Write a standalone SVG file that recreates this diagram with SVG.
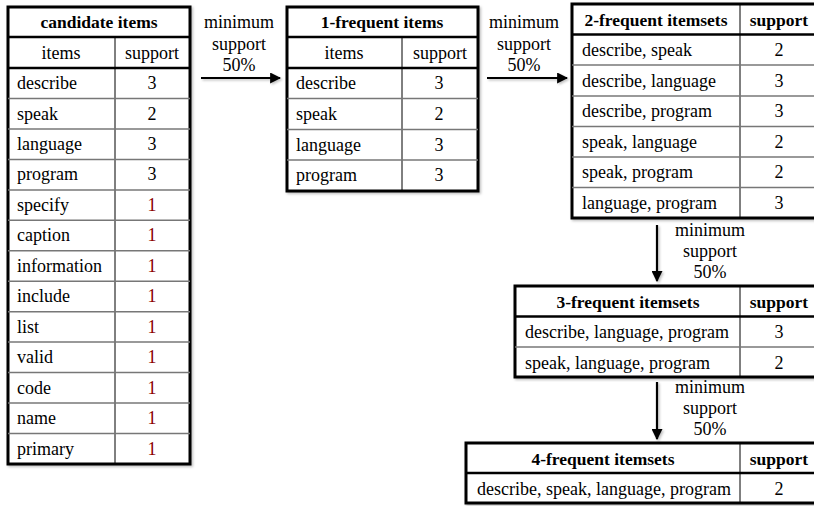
<svg xmlns="http://www.w3.org/2000/svg" width="814" height="506" viewBox="0 0 814 506">
<defs>
<filter id="sh" x="-5%" y="-5%" width="110%" height="110%">
<feDropShadow dx="1.5" dy="1.5" stdDeviation="1" flood-color="#000" flood-opacity="0.25"/>
</filter>
<filter id="sha" filterUnits="userSpaceOnUse" x="0" y="0" width="814" height="506">
<feDropShadow dx="1.5" dy="1.5" stdDeviation="1" flood-color="#000" flood-opacity="0.25"/>
</filter>
<marker id="ah" viewBox="0 0 10 10" refX="9" refY="5" markerWidth="5" markerHeight="5" orient="auto" markerUnits="strokeWidth">
<path d="M0,0 L10,5 L0,10 z" fill="#000"/>
</marker>
<style>
text{font-family:"Liberation Serif","Times New Roman",serif;font-size:18px;fill:#000}
.b{font-weight:bold;font-size:17.5px}
.c{text-anchor:middle}
.r{fill:#8b0000}
.out{fill:#fff;stroke:#000;stroke-width:3}
.thk{stroke:#000;stroke-width:2.5}
.thn{stroke:#777;stroke-width:1.5}
.vd{stroke:#000;stroke-width:1}
.arr{stroke:#000;stroke-width:2.2;fill:none}
</style>
</defs>

<g id="candidate-items">
<rect class="out" x="8" y="7" width="182" height="457" filter="url(#sh)"/>
<line class="vd" x1="115" y1="37" x2="115" y2="464"/>
<line class="thk" x1="8" y1="37" x2="190" y2="37"/>
<line class="thk" x1="8" y1="68" x2="190" y2="68"/>
<line class="thn" x1="8" y1="98.5" x2="190" y2="98.5"/>
<line class="thn" x1="8" y1="129" x2="190" y2="129"/>
<line class="thn" x1="8" y1="159.4" x2="190" y2="159.4"/>
<line class="thn" x1="8" y1="189.9" x2="190" y2="189.9"/>
<line class="thn" x1="8" y1="220.3" x2="190" y2="220.3"/>
<line class="thn" x1="8" y1="250.8" x2="190" y2="250.8"/>
<line class="thn" x1="8" y1="281.2" x2="190" y2="281.2"/>
<line class="thn" x1="8" y1="311.7" x2="190" y2="311.7"/>
<line class="thn" x1="8" y1="342.1" x2="190" y2="342.1"/>
<line class="thn" x1="8" y1="372.6" x2="190" y2="372.6"/>
<line class="thn" x1="8" y1="403" x2="190" y2="403"/>
<line class="thn" x1="8" y1="433.5" x2="190" y2="433.5"/>
<text class="b c" x="99" y="28">candidate items</text>
<text class="c" x="61" y="59">items</text>
<text class="c" x="152" y="59">support</text>
<text x="17" y="89">describe</text><text class="c" x="152" y="89">3</text>
<text x="17" y="119.5">speak</text><text class="c" x="152" y="119.5">2</text>
<text x="17" y="150">language</text><text class="c" x="152" y="150">3</text>
<text x="17" y="180.4">program</text><text class="c" x="152" y="180.4">3</text>
<text x="17" y="210.9">specify</text><text class="c r" x="152" y="210.9">1</text>
<text x="17" y="241.3">caption</text><text class="c r" x="152" y="241.3">1</text>
<text x="17" y="271.8">information</text><text class="c r" x="152" y="271.8">1</text>
<text x="17" y="302.2">include</text><text class="c r" x="152" y="302.2">1</text>
<text x="17" y="332.7">list</text><text class="c r" x="152" y="332.7">1</text>
<text x="17" y="363.1">valid</text><text class="c r" x="152" y="363.1">1</text>
<text x="17" y="393.6">code</text><text class="c r" x="152" y="393.6">1</text>
<text x="17" y="424">name</text><text class="c r" x="152" y="424">1</text>
<text x="17" y="454.5">primary</text><text class="c r" x="152" y="454.5">1</text>
</g>

<g id="frequent-1">
<rect class="out" x="287" y="7" width="191" height="184" filter="url(#sh)"/>
<line class="vd" x1="402" y1="37" x2="402" y2="191"/>
<line class="thk" x1="287" y1="37" x2="478" y2="37"/>
<line class="thk" x1="287" y1="68" x2="478" y2="68"/>
<line class="thn" x1="287" y1="98.5" x2="478" y2="98.5"/>
<line class="thn" x1="287" y1="129.5" x2="478" y2="129.5"/>
<line class="thn" x1="287" y1="160" x2="478" y2="160"/>
<text class="b c" x="382" y="28">1-frequent items</text>
<text class="c" x="344" y="59">items</text>
<text class="c" x="440" y="59">support</text>
<text x="296" y="89">describe</text><text class="c" x="439" y="89">3</text>
<text x="296" y="120">speak</text><text class="c" x="439" y="120">2</text>
<text x="296" y="150.5">language</text><text class="c" x="439" y="150.5">3</text>
<text x="296" y="181">program</text><text class="c" x="439" y="181">3</text>
</g>

<g id="frequent-2">
<rect class="out" x="572" y="4" width="260" height="214" filter="url(#sh)"/>
<line class="vd" x1="740" y1="4" x2="740" y2="218"/>
<line class="thk" x1="572" y1="34.5" x2="832" y2="34.5"/>
<line class="thn" x1="572" y1="65" x2="832" y2="65"/>
<line class="thn" x1="572" y1="96" x2="832" y2="96"/>
<line class="thn" x1="572" y1="126.5" x2="832" y2="126.5"/>
<line class="thn" x1="572" y1="157" x2="832" y2="157"/>
<line class="thn" x1="572" y1="187.5" x2="832" y2="187.5"/>
<text class="b c" x="656" y="26">2-frequent itemsets</text>
<text class="b c" x="779" y="26">support</text>
<text x="582" y="56">describe, speak</text><text class="c" x="779" y="56">2</text>
<text x="582" y="86.5">describe, language</text><text class="c" x="779" y="86.5">3</text>
<text x="582" y="117">describe, program</text><text class="c" x="779" y="117">3</text>
<text x="582" y="147.5">speak, language</text><text class="c" x="779" y="147.5">2</text>
<text x="582" y="178">speak, program</text><text class="c" x="779" y="178">2</text>
<text x="582" y="208.5">language, program</text><text class="c" x="779" y="208.5">3</text>
</g>

<g id="frequent-3">
<rect class="out" x="515" y="286" width="317" height="91" filter="url(#sh)"/>
<line class="vd" x1="740" y1="286" x2="740" y2="377"/>
<line class="thk" x1="515" y1="316.5" x2="832" y2="316.5"/>
<line class="thn" x1="515" y1="347" x2="832" y2="347"/>
<text class="b c" x="628" y="307.5">3-frequent itemsets</text>
<text class="b c" x="779" y="307.5">support</text>
<text x="525" y="338">describe, language, program</text><text class="c" x="779" y="338">3</text>
<text x="525" y="368.5">speak, language, program</text><text class="c" x="779" y="368.5">2</text>
</g>

<g id="frequent-4">
<rect class="out" x="466" y="443" width="366" height="60" filter="url(#sh)"/>
<line class="vd" x1="740" y1="443" x2="740" y2="503"/>
<line class="thk" x1="466" y1="473" x2="832" y2="473"/>
<text class="b c" x="603" y="464.5">4-frequent itemsets</text>
<text class="b c" x="779" y="464.5">support</text>
<text x="477" y="494.5">describe, speak, language, program</text><text class="c" x="779" y="494.5">2</text>
</g>

<g id="connectors">
<g filter="url(#sha)">
<line class="arr" x1="201" y1="78" x2="280" y2="78" marker-end="url(#ah)"/>
<line class="arr" x1="487" y1="78" x2="567" y2="78" marker-end="url(#ah)"/>
<line class="arr" x1="657" y1="225" x2="657" y2="281" marker-end="url(#ah)"/>
<line class="arr" x1="657" y1="382" x2="657" y2="439" marker-end="url(#ah)"/>
</g>
<text class="c" x="239" y="28">minimum</text>
<text class="c" x="239" y="50">support</text>
<text class="c" x="239" y="71">50%</text>
<text class="c" x="524" y="28">minimum</text>
<text class="c" x="524" y="50">support</text>
<text class="c" x="524" y="71">50%</text>
<text class="c" x="710" y="236">minimum</text>
<text class="c" x="710" y="257">support</text>
<text class="c" x="710" y="278">50%</text>
<text class="c" x="710" y="393">minimum</text>
<text class="c" x="710" y="414">support</text>
<text class="c" x="710" y="435">50%</text>
</g>
</svg>
